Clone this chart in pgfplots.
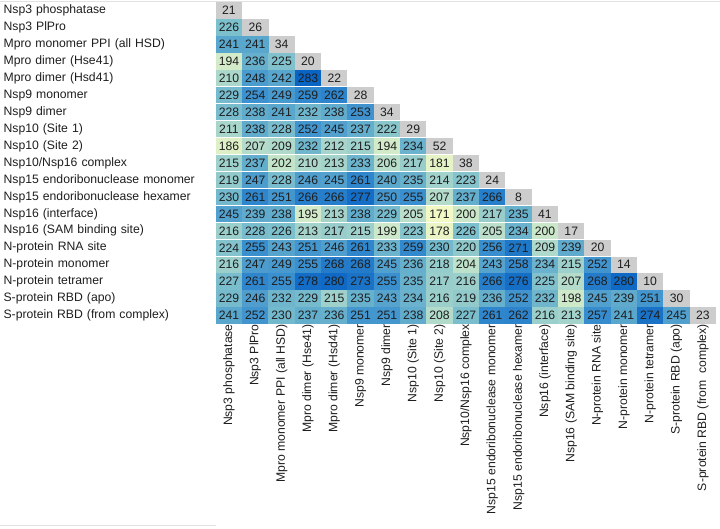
\documentclass[border=0pt]{standalone}
\usepackage{pgfplots}
\usepackage{pgfplotstable}
\pgfplotsset{compat=1.18}
\usepackage{fontspec}
\setmainfont{Liberation Sans}
\definecolor{diaggray}{RGB}{205,205,205}
\definecolor{txt}{RGB}{30,30,30}
\definecolor{faint}{RGB}{225,225,225}
\pgfplotsset{colormap={heat}{rgb255=(243,249,196) rgb255=(205,232,202) rgb255=(122,190,205) rgb255=(58,143,206) rgb255=(10,100,196)}}
\pgfplotstableread[row sep=\\]{
x y v\\
0 0 21\\ 1 1 26\\ 2 2 34\\ 3 3 20\\ 4 4 22\\ 5 5 28\\ 6 6 34\\ 7 7 29\\ 8 8 52\\ 9 9 38\\
10 10 24\\ 11 11 8\\ 12 12 41\\ 13 13 17\\ 14 14 20\\ 15 15 14\\ 16 16 10\\ 17 17 30\\ 18 18 23\\
}\diagtab
\pgfplotstableread[row sep=\\]{
x y v\\
0 1 226\\
0 2 241\\ 1 2 241\\
0 3 194\\ 1 3 236\\ 2 3 225\\
0 4 210\\ 1 4 248\\ 2 4 242\\ 3 4 283\\
0 5 229\\ 1 5 254\\ 2 5 249\\ 3 5 259\\ 4 5 262\\
0 6 228\\ 1 6 238\\ 2 6 241\\ 3 6 232\\ 4 6 238\\ 5 6 253\\
0 7 211\\ 1 7 238\\ 2 7 228\\ 3 7 252\\ 4 7 245\\ 5 7 237\\ 6 7 222\\
0 8 186\\ 1 8 207\\ 2 8 209\\ 3 8 232\\ 4 8 212\\ 5 8 215\\ 6 8 194\\ 7 8 234\\
0 9 215\\ 1 9 237\\ 2 9 202\\ 3 9 210\\ 4 9 213\\ 5 9 233\\ 6 9 206\\ 7 9 217\\ 8 9 181\\
0 10 219\\ 1 10 247\\ 2 10 228\\ 3 10 246\\ 4 10 245\\ 5 10 261\\ 6 10 240\\ 7 10 235\\ 8 10 214\\ 9 10 223\\
0 11 230\\ 1 11 261\\ 2 11 251\\ 3 11 266\\ 4 11 266\\ 5 11 277\\ 6 11 250\\ 7 11 255\\ 8 11 207\\ 9 11 237\\ 10 11 266\\
0 12 245\\ 1 12 239\\ 2 12 238\\ 3 12 195\\ 4 12 213\\ 5 12 238\\ 6 12 229\\ 7 12 205\\ 8 12 171\\ 9 12 200\\ 10 12 217\\ 11 12 235\\
0 13 216\\ 1 13 228\\ 2 13 226\\ 3 13 213\\ 4 13 217\\ 5 13 215\\ 6 13 199\\ 7 13 223\\ 8 13 178\\ 9 13 226\\ 10 13 205\\ 11 13 234\\ 12 13 200\\
0 14 224\\ 1 14 255\\ 2 14 243\\ 3 14 251\\ 4 14 246\\ 5 14 261\\ 6 14 233\\ 7 14 259\\ 8 14 230\\ 9 14 220\\ 10 14 256\\ 11 14 271\\ 12 14 209\\ 13 14 239\\
0 15 216\\ 1 15 247\\ 2 15 249\\ 3 15 255\\ 4 15 268\\ 5 15 268\\ 6 15 245\\ 7 15 236\\ 8 15 218\\ 9 15 204\\ 10 15 243\\ 11 15 258\\ 12 15 234\\ 13 15 215\\ 14 15 252\\
0 16 227\\ 1 16 261\\ 2 16 255\\ 3 16 278\\ 4 16 280\\ 5 16 273\\ 6 16 255\\ 7 16 235\\ 8 16 217\\ 9 16 216\\ 10 16 266\\ 11 16 276\\ 12 16 225\\ 13 16 207\\ 14 16 268\\ 15 16 280\\
0 17 229\\ 1 17 246\\ 2 17 232\\ 3 17 229\\ 4 17 215\\ 5 17 235\\ 6 17 243\\ 7 17 234\\ 8 17 216\\ 9 17 219\\ 10 17 236\\ 11 17 252\\ 12 17 232\\ 13 17 198\\ 14 17 245\\ 15 17 239\\ 16 17 251\\
0 18 241\\ 1 18 252\\ 2 18 230\\ 3 18 237\\ 4 18 236\\ 5 18 251\\ 6 18 251\\ 7 18 238\\ 8 18 208\\ 9 18 227\\ 10 18 261\\ 11 18 262\\ 12 18 216\\ 13 18 213\\ 14 18 257\\ 15 18 241\\ 16 18 274\\ 17 18 245\\
}\offtab
\begin{document}
\begin{tikzpicture}
\useasboundingbox (0,0) rectangle (720pt,-529pt);
\draw[faint] (0,-1pt) -- (720pt,-1pt);
\draw[faint] (0,-525pt) -- (216pt,-525pt);
\begin{axis}[
  at={(215.8pt,-2pt)}, anchor=north west,
  x=26.33pt, y=16.95pt, y dir=reverse,
  xmin=-0.5, xmax=18.5, ymin=-0.5, ymax=18.5,
  axis line style={draw=none}, major tick length=0pt,
  clip=false,
  colormap name=heat, point meta min=171, point meta max=283,
  /pgf/number format/assume math mode=true,
  xtick={0,...,18}, ytick={0,...,18},
  xticklabels={Nsp3 phosphatase,Nsp3 PlPro,Mpro monomer PPI (all HSD),Mpro dimer (Hse41),Mpro dimer (Hsd41),Nsp9 monomer,Nsp9 dimer,Nsp10 (Site 1),Nsp10 (Site 2),Nsp10/Nsp16 complex,Nsp15 endoribonuclease monomer,Nsp15 endoribonuclease hexamer,Nsp16 (interface),Nsp16 (SAM binding site),N-protein RNA site,N-protein monomer,N-protein tetramer,S-protein RBD (apo),S-protein RBD (from\ \ complex)},
  yticklabels={Nsp3 phosphatase,Nsp3 PlPro,Mpro monomer PPI (all HSD),Mpro dimer (Hse41),Mpro dimer (Hsd41),Nsp9 monomer,Nsp9 dimer,Nsp10 (Site 1),Nsp10 (Site 2),Nsp10/Nsp16 complex,Nsp15 endoribonuclease monomer,Nsp15 endoribonuclease hexamer,Nsp16 (interface),Nsp16 (SAM binding site),N-protein RNA site,N-protein monomer,N-protein tetramer,S-protein RBD (apo),S-protein RBD (from complex)},
  xticklabel style={rotate=90, anchor=east, inner sep=0pt, font=\fontsize{12.2}{12.2}\selectfont, text=txt},
  yticklabel style={anchor=east, text width=212pt, align=left, inner sep=0pt, font=\fontsize{12.2}{12.2}\selectfont, text=txt},
  every node near coord/.append style={anchor=center, text=txt, font=\fontsize{12.2}{12.2}\selectfont, inner sep=0pt},
]
\addplot[only marks, mark=square*, mark size=7.7pt, mark options={xscale=1.65, fill=diaggray, draw=diaggray, line width=0pt}, point meta=explicit, nodes near coords] table[meta=v] {\diagtab};
\addplot[scatter, only marks, mark=square*, mark size=7.7pt, mark options={xscale=1.65, line width=0pt}, scatter/use mapped color={draw=mapped color, fill=mapped color}, point meta=explicit] table[meta=v] {\offtab};
\addplot[only marks, mark=none, point meta=explicit, nodes near coords] table[meta=v] {\offtab};
\end{axis}
\end{tikzpicture}
\end{document}
